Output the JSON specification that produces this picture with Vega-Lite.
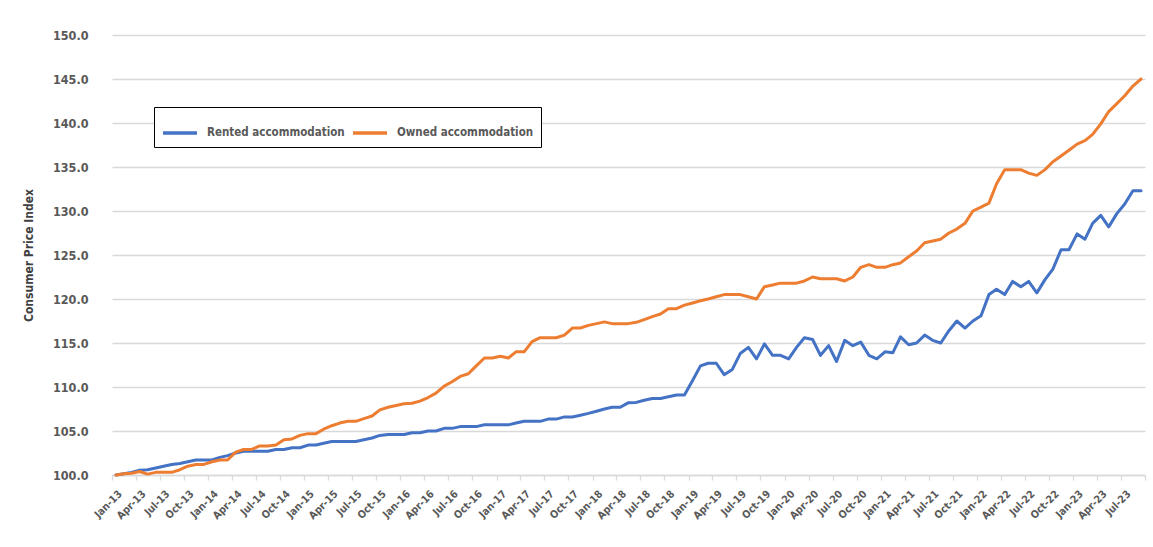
{
  "$schema": "https://vega.github.io/schema/vega-lite/v6.json",
  "width": 1033,
  "height": 440,
  "autosize": {"type": "none"},
  "padding": {"left": 112, "top": 35, "right": 8, "bottom": 72},
  "background": "white",
  "config": {
    "view": {"stroke": null},
    "font": "DejaVu Sans Condensed"
  },
  "data": {
    "values": [
      {"date":"2013-01-16","series":"Rented accommodation","value":100.0},
      {"date":"2013-02-15","series":"Rented accommodation","value":100.15},
      {"date":"2013-03-16","series":"Rented accommodation","value":100.3},
      {"date":"2013-04-16","series":"Rented accommodation","value":100.55},
      {"date":"2013-05-16","series":"Rented accommodation","value":100.6},
      {"date":"2013-06-16","series":"Rented accommodation","value":100.8},
      {"date":"2013-07-16","series":"Rented accommodation","value":101.0},
      {"date":"2013-08-16","series":"Rented accommodation","value":101.2},
      {"date":"2013-09-16","series":"Rented accommodation","value":101.3},
      {"date":"2013-10-16","series":"Rented accommodation","value":101.5},
      {"date":"2013-11-16","series":"Rented accommodation","value":101.7},
      {"date":"2013-12-16","series":"Rented accommodation","value":101.7},
      {"date":"2014-01-16","series":"Rented accommodation","value":101.7},
      {"date":"2014-02-15","series":"Rented accommodation","value":102.0},
      {"date":"2014-03-16","series":"Rented accommodation","value":102.2},
      {"date":"2014-04-16","series":"Rented accommodation","value":102.5},
      {"date":"2014-05-16","series":"Rented accommodation","value":102.7},
      {"date":"2014-06-16","series":"Rented accommodation","value":102.7},
      {"date":"2014-07-16","series":"Rented accommodation","value":102.7},
      {"date":"2014-08-16","series":"Rented accommodation","value":102.7},
      {"date":"2014-09-16","series":"Rented accommodation","value":102.9},
      {"date":"2014-10-16","series":"Rented accommodation","value":102.9},
      {"date":"2014-11-16","series":"Rented accommodation","value":103.1},
      {"date":"2014-12-16","series":"Rented accommodation","value":103.1},
      {"date":"2015-01-16","series":"Rented accommodation","value":103.4},
      {"date":"2015-02-15","series":"Rented accommodation","value":103.4},
      {"date":"2015-03-16","series":"Rented accommodation","value":103.6},
      {"date":"2015-04-16","series":"Rented accommodation","value":103.8},
      {"date":"2015-05-16","series":"Rented accommodation","value":103.8},
      {"date":"2015-06-16","series":"Rented accommodation","value":103.8},
      {"date":"2015-07-16","series":"Rented accommodation","value":103.8},
      {"date":"2015-08-16","series":"Rented accommodation","value":104.0},
      {"date":"2015-09-16","series":"Rented accommodation","value":104.2},
      {"date":"2015-10-16","series":"Rented accommodation","value":104.5},
      {"date":"2015-11-16","series":"Rented accommodation","value":104.6},
      {"date":"2015-12-16","series":"Rented accommodation","value":104.6},
      {"date":"2016-01-16","series":"Rented accommodation","value":104.6},
      {"date":"2016-02-15","series":"Rented accommodation","value":104.8},
      {"date":"2016-03-16","series":"Rented accommodation","value":104.8},
      {"date":"2016-04-16","series":"Rented accommodation","value":105.0},
      {"date":"2016-05-16","series":"Rented accommodation","value":105.0},
      {"date":"2016-06-16","series":"Rented accommodation","value":105.3},
      {"date":"2016-07-16","series":"Rented accommodation","value":105.3},
      {"date":"2016-08-16","series":"Rented accommodation","value":105.5},
      {"date":"2016-09-16","series":"Rented accommodation","value":105.5},
      {"date":"2016-10-16","series":"Rented accommodation","value":105.5},
      {"date":"2016-11-16","series":"Rented accommodation","value":105.7},
      {"date":"2016-12-16","series":"Rented accommodation","value":105.7},
      {"date":"2017-01-16","series":"Rented accommodation","value":105.7},
      {"date":"2017-02-15","series":"Rented accommodation","value":105.7},
      {"date":"2017-03-16","series":"Rented accommodation","value":105.9},
      {"date":"2017-04-16","series":"Rented accommodation","value":106.1},
      {"date":"2017-05-16","series":"Rented accommodation","value":106.1},
      {"date":"2017-06-16","series":"Rented accommodation","value":106.1},
      {"date":"2017-07-16","series":"Rented accommodation","value":106.35},
      {"date":"2017-08-16","series":"Rented accommodation","value":106.35},
      {"date":"2017-09-16","series":"Rented accommodation","value":106.6},
      {"date":"2017-10-16","series":"Rented accommodation","value":106.6},
      {"date":"2017-11-16","series":"Rented accommodation","value":106.8},
      {"date":"2017-12-16","series":"Rented accommodation","value":107.0},
      {"date":"2018-01-16","series":"Rented accommodation","value":107.25},
      {"date":"2018-02-15","series":"Rented accommodation","value":107.5},
      {"date":"2018-03-16","series":"Rented accommodation","value":107.7},
      {"date":"2018-04-16","series":"Rented accommodation","value":107.7},
      {"date":"2018-05-16","series":"Rented accommodation","value":108.2},
      {"date":"2018-06-16","series":"Rented accommodation","value":108.25},
      {"date":"2018-07-16","series":"Rented accommodation","value":108.5},
      {"date":"2018-08-16","series":"Rented accommodation","value":108.7},
      {"date":"2018-09-16","series":"Rented accommodation","value":108.7},
      {"date":"2018-10-16","series":"Rented accommodation","value":108.9},
      {"date":"2018-11-16","series":"Rented accommodation","value":109.1},
      {"date":"2018-12-16","series":"Rented accommodation","value":109.1},
      {"date":"2019-01-16","series":"Rented accommodation","value":110.75},
      {"date":"2019-02-15","series":"Rented accommodation","value":112.4},
      {"date":"2019-03-16","series":"Rented accommodation","value":112.7},
      {"date":"2019-04-16","series":"Rented accommodation","value":112.7},
      {"date":"2019-05-16","series":"Rented accommodation","value":111.4},
      {"date":"2019-06-16","series":"Rented accommodation","value":112.0},
      {"date":"2019-07-16","series":"Rented accommodation","value":113.8},
      {"date":"2019-08-16","series":"Rented accommodation","value":114.5},
      {"date":"2019-09-16","series":"Rented accommodation","value":113.2},
      {"date":"2019-10-16","series":"Rented accommodation","value":114.9},
      {"date":"2019-11-16","series":"Rented accommodation","value":113.6},
      {"date":"2019-12-16","series":"Rented accommodation","value":113.6},
      {"date":"2020-01-16","series":"Rented accommodation","value":113.2},
      {"date":"2020-02-15","series":"Rented accommodation","value":114.5},
      {"date":"2020-03-16","series":"Rented accommodation","value":115.6},
      {"date":"2020-04-16","series":"Rented accommodation","value":115.4},
      {"date":"2020-05-16","series":"Rented accommodation","value":113.6},
      {"date":"2020-06-16","series":"Rented accommodation","value":114.7},
      {"date":"2020-07-16","series":"Rented accommodation","value":112.9},
      {"date":"2020-08-16","series":"Rented accommodation","value":115.3},
      {"date":"2020-09-16","series":"Rented accommodation","value":114.7},
      {"date":"2020-10-16","series":"Rented accommodation","value":115.1},
      {"date":"2020-11-16","series":"Rented accommodation","value":113.6},
      {"date":"2020-12-16","series":"Rented accommodation","value":113.2},
      {"date":"2021-01-16","series":"Rented accommodation","value":114.0},
      {"date":"2021-02-15","series":"Rented accommodation","value":113.9},
      {"date":"2021-03-16","series":"Rented accommodation","value":115.7},
      {"date":"2021-04-16","series":"Rented accommodation","value":114.8},
      {"date":"2021-05-16","series":"Rented accommodation","value":115.0},
      {"date":"2021-06-16","series":"Rented accommodation","value":115.9},
      {"date":"2021-07-16","series":"Rented accommodation","value":115.3},
      {"date":"2021-08-16","series":"Rented accommodation","value":115.0},
      {"date":"2021-09-16","series":"Rented accommodation","value":116.4},
      {"date":"2021-10-16","series":"Rented accommodation","value":117.5},
      {"date":"2021-11-16","series":"Rented accommodation","value":116.7},
      {"date":"2021-12-16","series":"Rented accommodation","value":117.5},
      {"date":"2022-01-16","series":"Rented accommodation","value":118.1},
      {"date":"2022-02-15","series":"Rented accommodation","value":120.5},
      {"date":"2022-03-16","series":"Rented accommodation","value":121.1},
      {"date":"2022-04-16","series":"Rented accommodation","value":120.5},
      {"date":"2022-05-16","series":"Rented accommodation","value":122.0},
      {"date":"2022-06-16","series":"Rented accommodation","value":121.4},
      {"date":"2022-07-16","series":"Rented accommodation","value":122.0},
      {"date":"2022-08-16","series":"Rented accommodation","value":120.7},
      {"date":"2022-09-16","series":"Rented accommodation","value":122.2},
      {"date":"2022-10-16","series":"Rented accommodation","value":123.4},
      {"date":"2022-11-16","series":"Rented accommodation","value":125.6},
      {"date":"2022-12-16","series":"Rented accommodation","value":125.6},
      {"date":"2023-01-16","series":"Rented accommodation","value":127.4},
      {"date":"2023-02-15","series":"Rented accommodation","value":126.8},
      {"date":"2023-03-16","series":"Rented accommodation","value":128.6},
      {"date":"2023-04-16","series":"Rented accommodation","value":129.5},
      {"date":"2023-05-16","series":"Rented accommodation","value":128.2},
      {"date":"2023-06-16","series":"Rented accommodation","value":129.7},
      {"date":"2023-07-16","series":"Rented accommodation","value":130.8},
      {"date":"2023-08-16","series":"Rented accommodation","value":132.3},
      {"date":"2023-09-16","series":"Rented accommodation","value":132.3},
      {"date":"2013-01-16","series":"Owned accommodation","value":100.0},
      {"date":"2013-02-15","series":"Owned accommodation","value":100.15},
      {"date":"2013-03-16","series":"Owned accommodation","value":100.2},
      {"date":"2013-04-16","series":"Owned accommodation","value":100.4},
      {"date":"2013-05-16","series":"Owned accommodation","value":100.1},
      {"date":"2013-06-16","series":"Owned accommodation","value":100.3},
      {"date":"2013-07-16","series":"Owned accommodation","value":100.3},
      {"date":"2013-08-16","series":"Owned accommodation","value":100.3},
      {"date":"2013-09-16","series":"Owned accommodation","value":100.6},
      {"date":"2013-10-16","series":"Owned accommodation","value":101.0},
      {"date":"2013-11-16","series":"Owned accommodation","value":101.2},
      {"date":"2013-12-16","series":"Owned accommodation","value":101.2},
      {"date":"2014-01-16","series":"Owned accommodation","value":101.5},
      {"date":"2014-02-15","series":"Owned accommodation","value":101.7},
      {"date":"2014-03-16","series":"Owned accommodation","value":101.7},
      {"date":"2014-04-16","series":"Owned accommodation","value":102.6},
      {"date":"2014-05-16","series":"Owned accommodation","value":102.9},
      {"date":"2014-06-16","series":"Owned accommodation","value":102.9},
      {"date":"2014-07-16","series":"Owned accommodation","value":103.3},
      {"date":"2014-08-16","series":"Owned accommodation","value":103.3},
      {"date":"2014-09-16","series":"Owned accommodation","value":103.4},
      {"date":"2014-10-16","series":"Owned accommodation","value":104.0},
      {"date":"2014-11-16","series":"Owned accommodation","value":104.1},
      {"date":"2014-12-16","series":"Owned accommodation","value":104.5},
      {"date":"2015-01-16","series":"Owned accommodation","value":104.7},
      {"date":"2015-02-15","series":"Owned accommodation","value":104.7},
      {"date":"2015-03-16","series":"Owned accommodation","value":105.2},
      {"date":"2015-04-16","series":"Owned accommodation","value":105.6},
      {"date":"2015-05-16","series":"Owned accommodation","value":105.9},
      {"date":"2015-06-16","series":"Owned accommodation","value":106.1},
      {"date":"2015-07-16","series":"Owned accommodation","value":106.1},
      {"date":"2015-08-16","series":"Owned accommodation","value":106.4},
      {"date":"2015-09-16","series":"Owned accommodation","value":106.7},
      {"date":"2015-10-16","series":"Owned accommodation","value":107.4},
      {"date":"2015-11-16","series":"Owned accommodation","value":107.7},
      {"date":"2015-12-16","series":"Owned accommodation","value":107.9},
      {"date":"2016-01-16","series":"Owned accommodation","value":108.1},
      {"date":"2016-02-15","series":"Owned accommodation","value":108.15},
      {"date":"2016-03-16","series":"Owned accommodation","value":108.4},
      {"date":"2016-04-16","series":"Owned accommodation","value":108.8},
      {"date":"2016-05-16","series":"Owned accommodation","value":109.3},
      {"date":"2016-06-16","series":"Owned accommodation","value":110.1},
      {"date":"2016-07-16","series":"Owned accommodation","value":110.6},
      {"date":"2016-08-16","series":"Owned accommodation","value":111.2},
      {"date":"2016-09-16","series":"Owned accommodation","value":111.5},
      {"date":"2016-10-16","series":"Owned accommodation","value":112.4},
      {"date":"2016-11-16","series":"Owned accommodation","value":113.3},
      {"date":"2016-12-16","series":"Owned accommodation","value":113.3},
      {"date":"2017-01-16","series":"Owned accommodation","value":113.5},
      {"date":"2017-02-15","series":"Owned accommodation","value":113.3},
      {"date":"2017-03-16","series":"Owned accommodation","value":114.0},
      {"date":"2017-04-16","series":"Owned accommodation","value":114.0},
      {"date":"2017-05-16","series":"Owned accommodation","value":115.15},
      {"date":"2017-06-16","series":"Owned accommodation","value":115.6},
      {"date":"2017-07-16","series":"Owned accommodation","value":115.6},
      {"date":"2017-08-16","series":"Owned accommodation","value":115.6},
      {"date":"2017-09-16","series":"Owned accommodation","value":115.9},
      {"date":"2017-10-16","series":"Owned accommodation","value":116.7},
      {"date":"2017-11-16","series":"Owned accommodation","value":116.7},
      {"date":"2017-12-16","series":"Owned accommodation","value":117.0},
      {"date":"2018-01-16","series":"Owned accommodation","value":117.2},
      {"date":"2018-02-15","series":"Owned accommodation","value":117.4},
      {"date":"2018-03-16","series":"Owned accommodation","value":117.2},
      {"date":"2018-04-16","series":"Owned accommodation","value":117.2},
      {"date":"2018-05-16","series":"Owned accommodation","value":117.2},
      {"date":"2018-06-16","series":"Owned accommodation","value":117.35},
      {"date":"2018-07-16","series":"Owned accommodation","value":117.65},
      {"date":"2018-08-16","series":"Owned accommodation","value":118.0},
      {"date":"2018-09-16","series":"Owned accommodation","value":118.3},
      {"date":"2018-10-16","series":"Owned accommodation","value":118.9},
      {"date":"2018-11-16","series":"Owned accommodation","value":118.9},
      {"date":"2018-12-16","series":"Owned accommodation","value":119.3},
      {"date":"2019-01-16","series":"Owned accommodation","value":119.55},
      {"date":"2019-02-15","series":"Owned accommodation","value":119.8},
      {"date":"2019-03-16","series":"Owned accommodation","value":120.0},
      {"date":"2019-04-16","series":"Owned accommodation","value":120.25},
      {"date":"2019-05-16","series":"Owned accommodation","value":120.5},
      {"date":"2019-06-16","series":"Owned accommodation","value":120.5},
      {"date":"2019-07-16","series":"Owned accommodation","value":120.5},
      {"date":"2019-08-16","series":"Owned accommodation","value":120.25},
      {"date":"2019-09-16","series":"Owned accommodation","value":120.0},
      {"date":"2019-10-16","series":"Owned accommodation","value":121.4},
      {"date":"2019-11-16","series":"Owned accommodation","value":121.6},
      {"date":"2019-12-16","series":"Owned accommodation","value":121.8},
      {"date":"2020-01-16","series":"Owned accommodation","value":121.8},
      {"date":"2020-02-15","series":"Owned accommodation","value":121.8},
      {"date":"2020-03-16","series":"Owned accommodation","value":122.05},
      {"date":"2020-04-16","series":"Owned accommodation","value":122.5},
      {"date":"2020-05-16","series":"Owned accommodation","value":122.3},
      {"date":"2020-06-16","series":"Owned accommodation","value":122.3},
      {"date":"2020-07-16","series":"Owned accommodation","value":122.3},
      {"date":"2020-08-16","series":"Owned accommodation","value":122.05},
      {"date":"2020-09-16","series":"Owned accommodation","value":122.5},
      {"date":"2020-10-16","series":"Owned accommodation","value":123.6},
      {"date":"2020-11-16","series":"Owned accommodation","value":123.9},
      {"date":"2020-12-16","series":"Owned accommodation","value":123.6},
      {"date":"2021-01-16","series":"Owned accommodation","value":123.6},
      {"date":"2021-02-15","series":"Owned accommodation","value":123.9},
      {"date":"2021-03-16","series":"Owned accommodation","value":124.1},
      {"date":"2021-04-16","series":"Owned accommodation","value":124.8},
      {"date":"2021-05-16","series":"Owned accommodation","value":125.45},
      {"date":"2021-06-16","series":"Owned accommodation","value":126.4},
      {"date":"2021-07-16","series":"Owned accommodation","value":126.6},
      {"date":"2021-08-16","series":"Owned accommodation","value":126.8},
      {"date":"2021-09-16","series":"Owned accommodation","value":127.5},
      {"date":"2021-10-16","series":"Owned accommodation","value":127.95},
      {"date":"2021-11-16","series":"Owned accommodation","value":128.6},
      {"date":"2021-12-16","series":"Owned accommodation","value":130.0},
      {"date":"2022-01-16","series":"Owned accommodation","value":130.45},
      {"date":"2022-02-15","series":"Owned accommodation","value":130.9},
      {"date":"2022-03-16","series":"Owned accommodation","value":133.1},
      {"date":"2022-04-16","series":"Owned accommodation","value":134.7},
      {"date":"2022-05-16","series":"Owned accommodation","value":134.7},
      {"date":"2022-06-16","series":"Owned accommodation","value":134.7},
      {"date":"2022-07-16","series":"Owned accommodation","value":134.3},
      {"date":"2022-08-16","series":"Owned accommodation","value":134.05},
      {"date":"2022-09-16","series":"Owned accommodation","value":134.7},
      {"date":"2022-10-16","series":"Owned accommodation","value":135.6},
      {"date":"2022-11-16","series":"Owned accommodation","value":136.25},
      {"date":"2022-12-16","series":"Owned accommodation","value":136.9},
      {"date":"2023-01-16","series":"Owned accommodation","value":137.6},
      {"date":"2023-02-15","series":"Owned accommodation","value":138.0},
      {"date":"2023-03-16","series":"Owned accommodation","value":138.7},
      {"date":"2023-04-16","series":"Owned accommodation","value":139.9},
      {"date":"2023-05-16","series":"Owned accommodation","value":141.3},
      {"date":"2023-06-16","series":"Owned accommodation","value":142.2},
      {"date":"2023-07-16","series":"Owned accommodation","value":143.1},
      {"date":"2023-08-16","series":"Owned accommodation","value":144.2},
      {"date":"2023-09-16","series":"Owned accommodation","value":145.0}
    ]
  },
  "mark": {"type": "line", "strokeWidth": 3, "strokeJoin": "round", "strokeCap": "round"},
  "encoding": {
    "x": {
      "field": "date",
      "type": "temporal",
      "scale": {
        "type": "utc",
        "domain": [
          {"year": 2013, "month": 1, "date": 1, "utc": true},
          {"year": 2023, "month": 10, "date": 1, "utc": true}
        ]
      },
      "axis": {
        "title": null,
        "grid": false,
        "tickCount": {"interval": "month", "step": 3},
        "labelExpr": "utcyear(datum.value) == 2023 && utcmonth(datum.value) == 9 ? '' : utcFormat(datum.value, '%b-%y')",
        "labelAngle": -45,
        "labelAlign": "right",
        "labelBaseline": "middle",
        "labelPadding": 12,
        "labelOffset": 8,
        "labelOverlap": false,
        "labelFlush": false,
        "labelFont": "DejaVu Sans Condensed",
        "labelFontSize": 10.5,
        "labelFontWeight": "bold",
        "labelColor": "#595959",
        "tickColor": "#d9d9d9",
        "tickSize": 5,
        "tickWidth": 1.3,
        "domainColor": "#d9d9d9",
        "domainWidth": 1.3
      }
    },
    "y": {
      "field": "value",
      "type": "quantitative",
      "scale": {"domain": [100, 150], "nice": false, "zero": false},
      "axis": {
        "title": "Consumer Price Index",
        "values": [100, 105, 110, 115, 120, 125, 130, 135, 140, 145, 150],
        "format": ".1f",
        "ticks": false,
        "domain": false,
        "gridColor": "#d9d9d9",
        "gridWidth": 1.3,
        "labelPadding": 24,
        "labelFont": "DejaVu Sans Condensed",
        "labelFontSize": 12.5,
        "labelFontWeight": "bold",
        "labelColor": "#595959",
        "titleFont": "DejaVu Sans Condensed",
        "titleFontSize": 12,
        "titleFontWeight": "bold",
        "titleColor": "#404040",
        "titlePadding": 17
      }
    },
    "color": {
      "field": "series",
      "type": "nominal",
      "scale": {
        "domain": ["Rented accommodation", "Owned accommodation"],
        "range": ["#4472C4", "#ED7D31"]
      },
      "legend": {
        "title": null,
        "orient": "none",
        "legendX": 42,
        "legendY": 72,
        "direction": "horizontal",
        "strokeColor": "#000000",
        "fillColor": "#ffffff",
        "padding": 7,
        "symbolType": "stroke",
        "symbolSize": 1156,
        "symbolStrokeWidth": 3.5,
        "labelFont": "DejaVu Sans Condensed",
        "labelFontSize": 11.5,
        "labelFontWeight": "bold",
        "labelColor": "#595959",
        "labelLimit": 400,
        "labelOffset": 8,
        "columnPadding": 1
      }
    }
  }
}
